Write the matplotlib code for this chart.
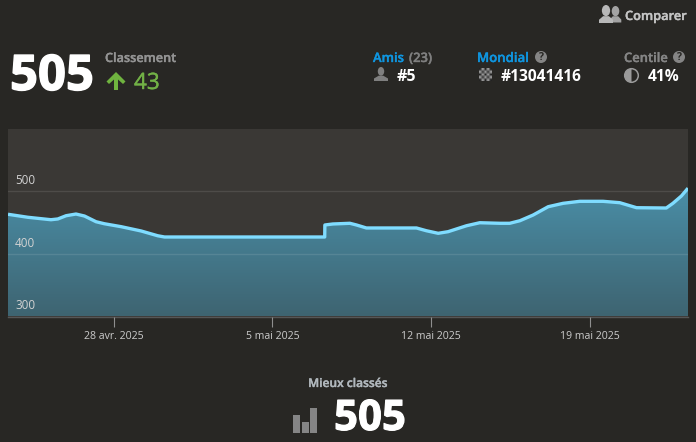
"""
Rank history card, drawn with matplotlib
"""

import numpy as np
import pandas as pd
import matplotlib
matplotlib.use("Agg")
import matplotlib.pyplot as plt
import matplotlib.dates as mdates
import matplotlib.patheffects as pe
from matplotlib.colors import LinearSegmentedColormap
from matplotlib.patches import Circle, Ellipse, Polygon, Rectangle, Wedge
from matplotlib.transforms import ScaledTranslation

# rank history
dates = [
    "2025-04-23 08:00", "2025-04-24 05:00", "2025-04-25 05:30", "2025-04-25 12:45",
    "2025-04-25 21:30", "2025-04-26 08:00", "2025-04-26 17:00", "2025-04-27 05:15",
    "2025-04-27 14:00", "2025-04-28 07:45", "2025-04-29 05:00", "2025-04-29 22:30",
    "2025-04-30 05:45", "2025-05-07 07:20", "2025-05-07 07:30", "2025-05-07 16:00",
    "2025-05-08 10:00", "2025-05-08 17:00", "2025-05-09 03:30", "2025-05-11 08:30",
    "2025-05-11 19:00", "2025-05-12 07:30", "2025-05-12 18:00", "2025-05-13 13:30",
    "2025-05-14 03:30", "2025-05-15 00:45", "2025-05-15 11:15", "2025-05-15 22:00",
    "2025-05-16 12:00", "2025-05-17 04:00", "2025-05-17 19:45", "2025-05-18 13:30",
    "2025-05-19 14:00", "2025-05-20 07:45", "2025-05-21 01:30", "2025-05-22 09:00",
    "2025-05-22 16:00", "2025-05-23 01:00", "2025-05-23 08:00",
]
ranks = [
    463.3, 458.5, 454.6, 455.8,
    461.0, 463.7, 460.5, 451.4,
    448.2, 443.5, 436.6, 429.0,
    427.0, 427.0, 446.2, 447.8,
    448.9, 446.2, 441.4, 441.4,
    437.0, 432.9, 435.5, 445.0,
    449.8, 448.9, 448.9, 453.0,
    462.1, 475.4, 480.8, 484.0,
    484.0, 481.8, 473.8, 473.3,
    480.8, 492.5, 505.0,
]
y_ticks = [300, 400, 500]
x_tick_dates = ["2025-04-28", "2025-05-05", "2025-05-12", "2025-05-19"]
x_tick_labels = ["28 avr. 2025", "5 mai 2025", "12 mai 2025", "19 mai 2025"]

W, H = 696, 442
BG = "#282724"
PLOT_BG = "#3a3835"
FONT = "Open Sans"

plt.rcParams["font.family"] = [FONT, "DejaVu Sans"]

fig = plt.figure(figsize=(W / 100, H / 100), dpi=100, facecolor=BG)

# main chart
ax = fig.add_axes([8 / W, (H - 316.5) / H, 680 / W, 187.8 / H], facecolor=PLOT_BG)
x = mdates.date2num(pd.to_datetime(dates))
y_min, y_max = 300, 600

cmap = LinearSegmentedColormap.from_list("fill", ["#3e6471", "#4a8fa8"])
gradient = np.linspace(0, 1, 256).reshape(-1, 1)
image = ax.imshow(gradient, origin="lower", aspect="auto", cmap=cmap, zorder=1,
                  extent=[x[0], x[-1], y_min, 510], vmin=0, vmax=1)
fill = ax.fill_between(x, y_min, ranks, color="none", zorder=1)
clip = Polygon(fill.get_paths()[0].vertices, closed=True, transform=ax.transData)
image.set_clip_path(clip)

ax.plot(x, ranks, color="#7fdcff", lw=2.4, zorder=3, solid_joinstyle="round",
        solid_capstyle="butt")

ax.set_xlim(x[0], x[-1])
ax.set_ylim(y_min, y_max)
ax.set_yticks(y_ticks)
ax.grid(axis="y", color="#ffffff", alpha=0.1, lw=1, zorder=2)
ax.set_axisbelow(False)
for line in ax.get_ygridlines():
    line.set_zorder(2)
ax.get_ygridlines()[0].set_visible(False)

ax.set_xticks(mdates.date2num(pd.to_datetime(x_tick_dates)))
ax.set_xticklabels(x_tick_labels)
ax.tick_params(axis="x", length=7.2, width=0.8, color="#8f8f8f", pad=3,
               labelsize=7.6, labelcolor="#cbcbcb")
ax.tick_params(axis="y", length=0, pad=-5, labelsize=8.4, labelcolor="#d2d2d2")
shift = ScaledTranslation(0, 8.7 / 72, fig.dpi_scale_trans)
for tick_label in ax.get_yticklabels():
    tick_label.set_ha("left")
    tick_label.set_transform(tick_label.get_transform() + shift)
for side in ["top", "left", "right"]:
    ax.spines[side].set_visible(False)
ax.spines["bottom"].set_color("#565656")
ax.spines["bottom"].set_linewidth(1)

# everything around the chart is placed in pixels
ov = fig.add_axes([0, 0, 1, 1], facecolor="none")
ov.set_xlim(0, W)
ov.set_ylim(H, 0)
ov.axis("off")


def label(px, py, s, size, color, weight="normal", ha="left", stroke=0):
    # size is in pixels, py is the baseline
    t = ov.text(px, py, s, fontsize=size * 0.72, color=color, fontweight=weight,
                ha=ha, va="baseline")
    if stroke:
        t.set_path_effects([pe.withStroke(linewidth=stroke, foreground=color)])
    return t


def person(cx, top, height, half_width, color):
    head_w, head_h = height * 0.46, height * 0.62
    shoulder = top + height * 0.62
    base = top + height
    ov.add_patch(Ellipse((cx, top + head_h / 2), head_w, head_h, color=color, lw=0))
    ov.add_patch(Polygon([(cx - half_width, base), (cx - half_width, base - height * 0.18),
                          (cx - head_w * 0.35, shoulder), (cx + head_w * 0.35, shoulder),
                          (cx + half_width, base - height * 0.18), (cx + half_width, base)],
                         closed=True, color=color, lw=0))


def help_mark(cx, cy):
    ov.add_patch(Circle((cx, cy), 6, color="#858585", lw=0))
    ov.text(cx, cy + 0.3, "?", fontsize=7.5, color=BG, fontweight="bold", ha="center", va="center")


# compare button
person(615.5, 6, 16.5, 5.8, "#a3a3a3")
person(606, 5, 18, 7, "#b8b8b8")
label(625, 20, "Comparer", 12.8, "#c4c4c4", 600, stroke=0.25)

# current rank
label(10, 90, "505", 49, "#ffffff", "bold", stroke=1.0)
label(105, 62, "Classement", 12.7, "#939393", 600, stroke=0.25)
ov.add_patch(Polygon([(116, 72), (125.5, 81.5), (123, 84), (118, 79.5), (118, 90), (114, 90),
                      (114, 79.5), (109, 84), (106.5, 81.5)], closed=True, color="#6fb33f", lw=0))
label(134, 89, "43", 22.5, "#72b146", 500, stroke=0.3)

# friends
label(373, 62, "Amis", 13, "#0f95df", 600, stroke=0.25)
label(409, 62, "(23)", 13, "#7f7f7f", 600, stroke=0.25)
person(381, 67, 14, 7, "#7f7f7f")
label(397, 81, "#5", 16, "#ffffff", "bold")

# world
label(477, 62, "Mondial", 13.2, "#0f95df", 600, stroke=0.25)
help_mark(541, 57)
cells = np.indices((5, 5)).sum(axis=0) % 2
ov.imshow(cells, cmap="gray", vmin=-0.25, vmax=1.6, extent=[478.5, 491.5, 81.5, 68.5],
          aspect="auto", interpolation="bilinear")
ov.set_xlim(0, W)
ov.set_ylim(H, 0)
label(501, 81, "#13041416", 15.5, "#ffffff", "bold")

# percentile
label(624, 62, "Centile", 13, "#858585", 600, stroke=0.25)
help_mark(679, 57)
ov.add_patch(Circle((631.5, 75.5), 6.8, fc="none", ec="#9a9a9a", lw=1.1))
ov.add_patch(Wedge((631.5, 75.5), 6.8, 90, 270, color="#9a9a9a", lw=0))
label(648, 81, "41%", 15.5, "#ffffff", "bold")

# best rank
label(348, 387, "Mieux classés", 12, "#b0b7bc", 600, ha="center", stroke=0.25)
for left, top in [(293, 415), (301.5, 422), (310, 408)]:
    ov.add_patch(Rectangle((left, top), 7, 433 - top, color="#858585", lw=0))
label(334, 430, "505", 42, "#ffffff", "bold", stroke=0.8)

fig.savefig("out.png", dpi=100, facecolor=BG)
plt.close("all")
